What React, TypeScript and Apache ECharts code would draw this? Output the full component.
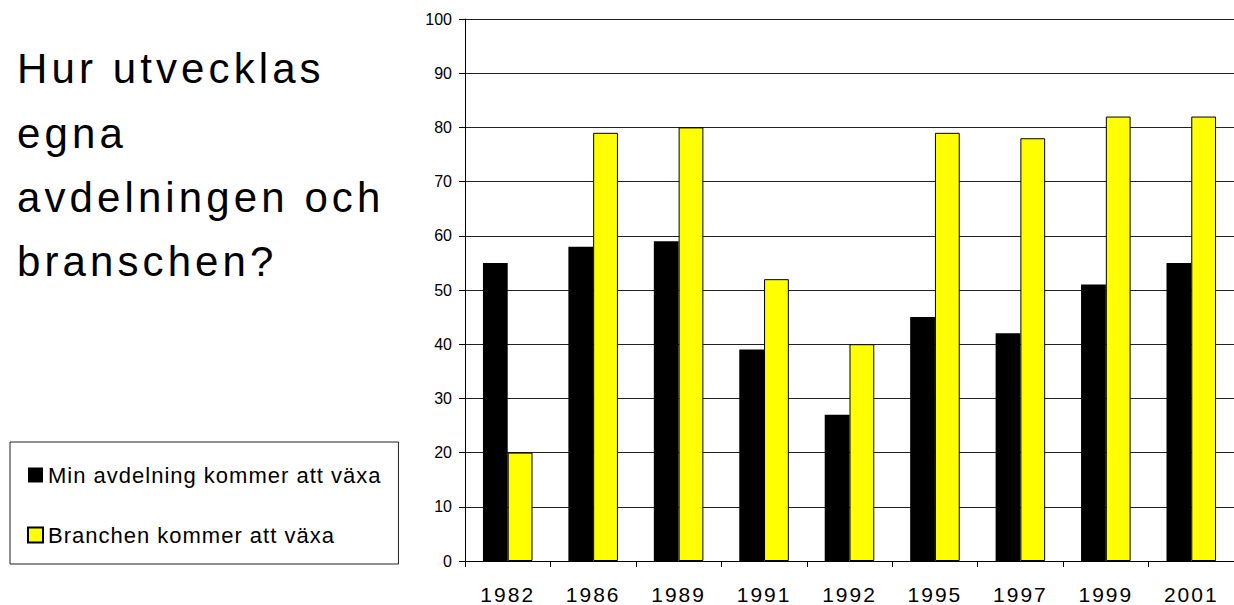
import React, { useEffect, useRef } from "react";
import * as echarts from "echarts";

const categories = ["1982", "1986", "1989", "1991", "1992", "1995", "1997", "1999", "2001"];
const minAvdelning = [55, 58, 59, 39, 27, 45, 42, 51, 55];
const branschen = [20, 79, 80, 52, 40, 79, 78, 82, 82];
const seriesNames = ["Min avdelning kommer att växa", "Branchen kommer att växa"];
const titleLines = ["Hur utvecklas", "egna", "avdelningen och", "branschen?"];
const yMin = 0;
const yMax = 100;
const yInterval = 10;

const titleBaselines = [83, 148, 212, 276];

const css = `
#chart-root text[style*="42px"], #chart-root text[font-size="42"], #chart-root text[font-size="42px"] { letter-spacing: 4.1px; }
#chart-root text[style*="21px"], #chart-root text[font-size="21"], #chart-root text[font-size="21px"] { letter-spacing: 2px; }
#chart-root text[style*="22px"], #chart-root text[font-size="22"], #chart-root text[font-size="22px"] { letter-spacing: 1px; }
`;

export default function App() {
  const ref = useRef<HTMLDivElement>(null);
  useEffect(() => {
    if (!ref.current) return;
    const chart = echarts.init(ref.current, undefined, { renderer: "svg" });
    const labelFont = "'Liberation Sans', Arial, sans-serif";
    const titleSize = 42;
    chart.setOption({
      animation: false,
      backgroundColor: "#ffffff",
      grid: { left: 465, top: 19, bottom: 43, right: -8, containLabel: false },
      xAxis: {
        type: "category",
        data: categories,
        axisLine: { lineStyle: { color: "#000", width: 1 } },
        axisTick: { show: true, length: 6, inside: false, lineStyle: { color: "#000" } },
        axisLabel: { color: "#000", fontSize: 21, fontFamily: labelFont, margin: 23 },
        splitLine: { show: false },
      },
      yAxis: {
        type: "value",
        min: yMin,
        max: yMax,
        interval: yInterval,
        axisLine: { show: true, lineStyle: { color: "#000", width: 1 } },
        axisTick: { show: true, length: 6, lineStyle: { color: "#000" } },
        axisLabel: { color: "#000", fontSize: 16, fontFamily: labelFont, margin: 13 },
        splitLine: { show: true, lineStyle: { color: "#222", width: 1 } },
      },
      legend: {
        orient: "vertical",
        left: 10,
        top: 442,
        padding: [21, 46, 17, 17],
        borderColor: "#222",
        borderWidth: 1,
        itemWidth: 15,
        itemHeight: 15,
        itemGap: 36,
        icon: "rect",
        textStyle: { color: "#000", fontSize: 22, lineHeight: 24, fontFamily: labelFont },
        data: seriesNames,
      },
      graphic: titleLines.map((line, i) => ({
        type: "text",
        x: 17,
        y: titleBaselines[i] - titleSize * 0.35,
        style: {
          text: line,
          fill: "#000",
          font: `${titleSize}px 'Liberation Sans', Arial, sans-serif`,
          verticalAlign: "middle",
          align: "left",
        },
      })),
      series: [
        {
          name: seriesNames[0],
          type: "bar",
          data: minAvdelning,
          barGap: "0%",
          barCategoryGap: "42%",
          itemStyle: { color: "#000000", borderColor: "#000", borderWidth: 0 },
        },
        {
          name: seriesNames[1],
          type: "bar",
          data: branschen,
          barGap: "0%",
          barCategoryGap: "42%",
          itemStyle: { color: "#ffff00", borderColor: "#000", borderWidth: 1 },
        },
      ],
    });
    return () => chart.dispose();
  }, []);
  return (
    <>
      <style>{css}</style>
      <div
        id="chart-root"
        ref={ref}
        style={{ position: "fixed", left: 0, top: 0, width: 1234, height: 605, background: "#fff" }}
      />
    </>
  );
}
